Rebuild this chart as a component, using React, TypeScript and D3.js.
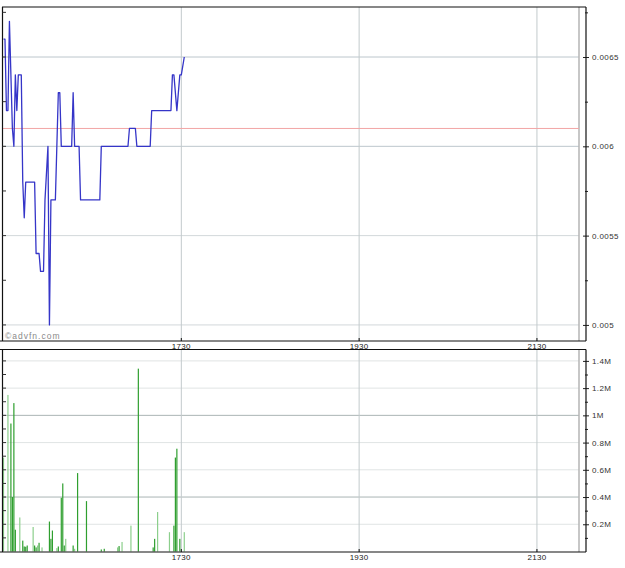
import React, { useEffect, useRef } from 'react';
import * as d3 from 'd3';

// minutes after 15:30
const priceMinutes = [0, 1, 2, 3, 4, 6, 7, 8, 9, 10, 12, 13, 14, 15, 21, 22, 24, 25, 27, 28, 30, 31, 32, 35, 36, 37, 38, 39, 46, 47, 48, 51, 52, 65, 66, 84, 85, 89, 90, 99, 100, 113, 114, 115, 117, 119, 120, 122];
const priceValues = [0.0066, 0.0066, 0.0062, 0.0062, 0.0067, 0.0061, 0.006, 0.0064, 0.0062, 0.0064, 0.0064, 0.0058, 0.0056, 0.0058, 0.0058, 0.0054, 0.0054, 0.0053, 0.0053, 0.0057, 0.006, 0.005, 0.0057, 0.0057, 0.006, 0.0063, 0.0063, 0.006, 0.006, 0.0063, 0.006, 0.006, 0.0057, 0.0057, 0.006, 0.006, 0.0061, 0.0061, 0.006, 0.006, 0.0062, 0.0062, 0.0064, 0.0064, 0.0062, 0.0064, 0.0064, 0.0065];
const prevClose = 0.0061;

const volumeMinutes = [0, 3, 5, 6, 7, 8, 11, 13, 14, 15, 16, 20, 21, 22, 23, 24, 26, 31, 32, 33, 36, 37, 39, 40, 41, 42, 47, 48, 50, 56, 66, 68, 77, 78, 80, 86, 91, 101, 102, 104, 112, 115, 116, 117, 119, 122];
const volumeValues = [690000, 1150000, 940000, 400000, 1090000, 160000, 250000, 80000, 37000, 35000, 44000, 180000, 44000, 30000, 44000, 64000, 30000, 220000, 93000, 154000, 25000, 37000, 395000, 500000, 44000, 93000, 44000, 20000, 576000, 370000, 15000, 20000, 30000, 40000, 70000, 190000, 1343000, 30000, 93000, 290000, 142000, 190000, 690000, 755000, 93000, 142000];
const volumeSide = ['l', 'l', 'd', 'd', 'd', 'd', 'l', 'd', 'd', 'd', 'd', 'l', 'd', 'd', 'l', 'd', 'l', 'd', 'd', 'd', 'l', 'd', 'd', 'd', 'd', 'l', 'd', 'l', 'd', 'd', 'd', 'd', 'l', 'd', 'l', 'l', 'd', 'd', 'd', 'l', 'l', 'd', 'd', 'd', 'd', 'l'];

const priceTicks = [0.005, 0.0055, 0.006, 0.0065];
const volumeTicks = [200000, 400000, 600000, 800000, 1000000, 1200000, 1400000];
const volumeStrongGrid = [400000, 1000000];
const timeTicks = [120, 240, 360];
const timeLabels = ['1730', '1930', '2130'];

export default function App() {
  const ref = useRef<HTMLDivElement>(null);

  useEffect(() => {
    const W = 625;
    const H = 568;
    const left = 3;
    const plotRight = 579;
    const axisX = 586;
    const top1 = 7, bot1 = 341;
    const top2 = 349.5, bot2 = 552;

    const svg = d3
      .select(ref.current)
      .append('svg')
      .attr('width', W)
      .attr('height', H)
      .style('display', 'block')
      .style('background', '#fff')
      .style('font-family', '"Liberation Sans", Arial, sans-serif');

    const x = d3.scaleLinear().domain([0, 390]).range([3.5, 581.4]);
    const yP = d3.scaleLinear().domain([0.00491, 0.00678]).range([bot1, top1]);
    const yV = d3.scaleLinear().domain([0, 1480000]).range([551.5, 350]);

    const minorP = d3.range(20, 28).map((i) => +(i * 0.00025).toFixed(5));
    const minorV = d3.range(1, 15).map((i) => i * 100000);

    // grid, top panel
    svg.append('g')
      .selectAll('line')
      .data(priceTicks)
      .join('line')
      .attr('x1', left).attr('x2', plotRight)
      .attr('y1', (d) => yP(d)).attr('y2', (d) => yP(d))
      .attr('stroke', (d) => (d >= 0.006 ? '#bcc6cc' : '#d2d8da'))
      .attr('stroke-width', 1);

    // grid, bottom panel
    svg.append('g')
      .selectAll('line')
      .data(volumeTicks)
      .join('line')
      .attr('x1', left).attr('x2', plotRight)
      .attr('y1', (d) => yV(d)).attr('y2', (d) => yV(d))
      .attr('stroke', (d) => (volumeStrongGrid.includes(d) ? '#aab4b4' : '#e0e4e4'))
      .attr('stroke-width', 1);

    // vertical grid
    [[top1, bot1], [top2, bot2]].forEach(([a, b]) => {
      svg.append('g')
        .selectAll('line')
        .data(timeTicks)
        .join('line')
        .attr('x1', (d) => x(d)).attr('x2', (d) => x(d))
        .attr('y1', a).attr('y2', b)
        .attr('stroke', '#c2cacc')
        .attr('stroke-width', 1);
      svg.append('line')
        .attr('x1', plotRight).attr('x2', plotRight)
        .attr('y1', a).attr('y2', b)
        .attr('stroke', '#b4b4b4')
        .attr('stroke-width', 1.5);
    });

    // previous close
    svg.append('line')
      .attr('x1', left).attr('x2', plotRight)
      .attr('y1', yP(prevClose)).attr('y2', yP(prevClose))
      .attr('stroke', '#f2a6a6')
      .attr('stroke-width', 1);

    // price line
    const line = d3
      .line<number>()
      .x((_, i) => x(priceMinutes[i]))
      .y((d) => yP(d));

    svg.append('path')
      .datum(priceValues)
      .attr('fill', 'none')
      .attr('stroke', '#3535c8')
      .attr('stroke-width', 1.3)
      .attr('stroke-linejoin', 'round')
      .attr('d', line);

    // volume bars
    svg.append('g')
      .selectAll('rect')
      .data(volumeValues)
      .join('rect')
      .attr('x', (_, i) => x(volumeMinutes[i]) - 0.6)
      .attr('width', 1.2)
      .attr('y', (d) => yV(d))
      .attr('height', (d) => yV(0) - yV(d))
      .attr('fill', (_, i) => (volumeSide[i] === 'd' ? '#2f9f2f' : '#8ccf8c'));

    // frames
    const frame = svg.append('g').attr('stroke', '#111').attr('stroke-width', 1.2);
    frame.append('line').attr('x1', 2).attr('x2', axisX).attr('y1', top1).attr('y2', top1);
    frame.append('line').attr('x1', 0).attr('x2', axisX).attr('y1', bot1).attr('y2', bot1);
    frame.append('line').attr('x1', 0).attr('x2', axisX).attr('y1', top2).attr('y2', top2);
    frame.append('line').attr('x1', 0).attr('x2', axisX).attr('y1', bot2).attr('y2', bot2);
    frame.append('line').attr('x1', 2.5).attr('x2', 2.5).attr('y1', top1).attr('y2', bot1);
    frame.append('line').attr('x1', 2.5).attr('x2', 2.5).attr('y1', top2).attr('y2', bot2);

    // left inner ticks
    svg.append('g')
      .selectAll('line')
      .data(minorP)
      .join('line')
      .attr('x1', 2.5).attr('x2', 6)
      .attr('y1', (d) => yP(d)).attr('y2', (d) => yP(d))
      .attr('stroke', '#333');
    svg.append('g')
      .selectAll('line')
      .data(minorV)
      .join('line')
      .attr('x1', 2.5).attr('x2', 6)
      .attr('y1', (d) => yV(d)).attr('y2', (d) => yV(d))
      .attr('stroke', '#333');

    // right axes
    const fmtP = (d: number) => (priceTicks.includes(d) ? String(+d.toFixed(5)) : '');
    const fmtV = (d: number) => (volumeTicks.includes(d) ? `${+(d / 1e6).toFixed(1)}M` : '');

    const styleAxis = (g: any, major: number[]) => {
      g.select('.domain').remove();
      g.selectAll('.tick line')
        .attr('stroke', '#222')
        .attr('x1', (d: number) => (major.includes(d) ? -3 : -1))
        .attr('x2', (d: number) => (major.includes(d) ? 3 : 2));
      g.selectAll('.tick text')
        .attr('fill', '#333')
        .attr('font-size', 8)
        .attr('letter-spacing', 0.4)
        .attr('font-family', '"Liberation Sans", Arial, sans-serif');
    };

    const axP = svg.append('g')
      .attr('transform', `translate(${axisX},0)`)
      .call(d3.axisRight(yP).tickValues(minorP).tickSize(3).tickPadding(3).tickFormat(fmtP as any));
    styleAxis(axP, priceTicks);

    const axV = svg.append('g')
      .attr('transform', `translate(${axisX},0)`)
      .call(d3.axisRight(yV).tickValues(minorV).tickSize(3).tickPadding(3).tickFormat(fmtV as any));
    styleAxis(axV, volumeTicks);

    svg.append('line')
      .attr('x1', axisX).attr('x2', axisX).attr('y1', top1).attr('y2', bot1)
      .attr('stroke', '#111').attr('stroke-width', 1.2);
    svg.append('line')
      .attr('x1', axisX).attr('x2', axisX).attr('y1', top2).attr('y2', bot2)
      .attr('stroke', '#111').attr('stroke-width', 1.2);

    // time labels
    [bot1, bot2].forEach((b) => {
      svg.append('g')
        .selectAll('line')
        .data(timeTicks)
        .join('line')
        .attr('x1', (d) => x(d)).attr('x2', (d) => x(d))
        .attr('y1', b - 3).attr('y2', b)
        .attr('stroke', '#111');
      svg.append('g')
        .selectAll('text')
        .data(timeTicks)
        .join('text')
        .attr('x', (d) => x(d))
        .attr('y', b + 8)
        .attr('text-anchor', 'middle')
        .attr('font-size', 8)
        .attr('letter-spacing', 0.3)
        .attr('fill', '#222')
        .text((_, i) => timeLabels[i]);
    });

    // watermark
    svg.append('text')
      .attr('x', 5)
      .attr('y', 339)
      .attr('font-size', 8.5)
      .attr('letter-spacing', 1)
      .attr('fill', '#8a8a8a')
      .text('©advfn.com');

    return () => {
      d3.select(ref.current).select('svg').remove();
    };
  }, []);

  return <div ref={ref} style={{ position: 'absolute', left: 0, top: 0 }}></div>;
}
